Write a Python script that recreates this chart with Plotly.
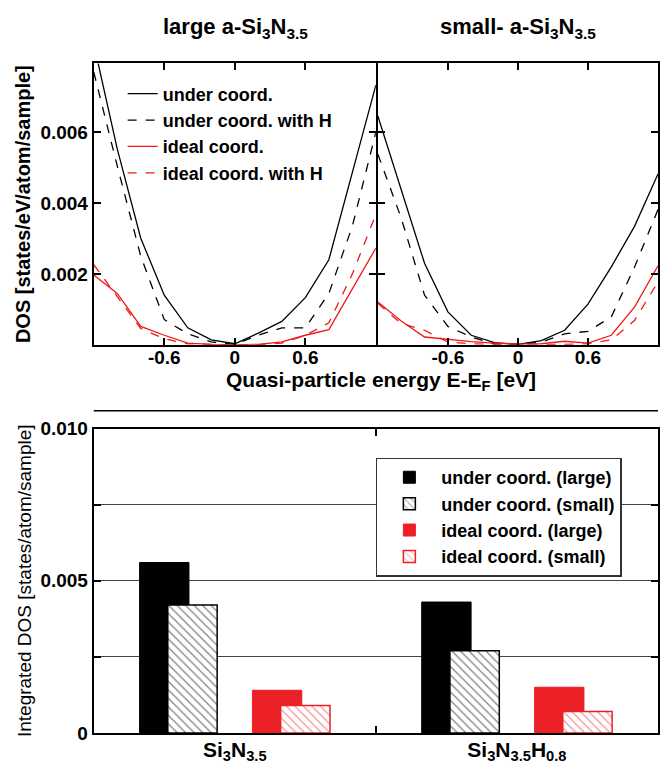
import plotly.graph_objects as go

# ---------------- data ----------------
energy = [-1.2, -1.0, -0.8, -0.6, -0.4, -0.2, 0.0, 0.2, 0.4, 0.6, 0.8, 1.0, 1.2]

large_under = [0.0085, 0.00553, 0.00301, 0.0014, 0.00048, 0.00014, 0.00003, 0.00033, 0.00066, 0.00133, 0.0024, 0.00486, 0.00733]
large_under_H = [0.0077, 0.00505, 0.0025, 0.00071, 0.00031, 0.00008, 0.00001, 0.00027, 0.00048, 0.00048, 0.00145, 0.00335, 0.0060]
large_ideal = [0.00197, 0.00145, 0.00052, 0.00027, 0.00005, 0.00001, 0.0, 0.00001, 0.00008, 0.00027, 0.00043, 0.0016, 0.00273]
large_ideal_H = [0.00226, 0.00137, 0.00046, 0.00017, 0.00003, 0.00001, 0.0, 0.0, 0.00005, 0.00027, 0.00062, 0.0020, 0.00368]

small_under = [0.00646, 0.00439, 0.0023, 0.00093, 0.00027, 0.00006, 0.00001, 0.00012, 0.00041, 0.00115, 0.0022, 0.00335, 0.00482]
small_under_H = [0.00538, 0.00358, 0.0014, 0.00052, 0.00022, 0.00003, 0.00001, 0.00008, 0.00031, 0.00038, 0.00079, 0.0022, 0.00382]
small_ideal = [0.00121, 0.00067, 0.00022, 0.00015, 0.00009, 0.00005, 0.00002, 0.00003, 0.0001, 0.00005, 0.00027, 0.00107, 0.00223]
small_ideal_H = [0.00117, 0.0006, 0.00041, 0.00008, 0.00003, 0.00001, 0.0, 0.0, 0.00001, 0.00003, 0.00014, 0.00069, 0.00178]

line_names = ["under coord.", "under coord. with H", "ideal coord.", "ideal coord. with H"]

categories = ["Si<sub>3</sub>N<sub>3.5</sub>", "Si<sub>3</sub>N<sub>3.5</sub>H<sub>0.8</sub>"]
under_large = [0.0056, 0.0043]
under_small = [0.0042, 0.0027]
ideal_large = [0.0014, 0.0015]
ideal_small = [0.0009, 0.0007]
bar_names = ["under coord. (large)", "under coord. (small)", "ideal coord. (large)", "ideal coord. (small)"]

dos_ticks = [0.002, 0.004, 0.006]
dos_ticktext = ["0.002", "0.004", "0.006"]
energy_ticks = [-0.6, 0, 0.6]
energy_ticktext = ["-0.6", "0", "0.6"]
int_ticks = [0, 0.005, 0.010]
int_ticktext = ["0", "0.005", "0.010"]

# ---------------- style ----------------
PAGE_W, PAGE_H, BODY = 668, 773, 8
W, H = PAGE_W - 2 * BODY, PAGE_H - 2 * BODY
FONT = "Liberation Sans, Arial, Helvetica, sans-serif"
RED_LINE = "#f01818"
RED_BAR = "#ec2027"
# vertical placement calibration of the photographed page
Y_OFF, Y_SC = 16.4, 0.9746

def px_x(p):
    return (p - BODY) / W

def px_y(p):
    return 1 - ((p - Y_OFF) / Y_SC) / H

fig = go.Figure()

# ---------------- top panels ----------------
styles = [("black", "solid"), ("black", "dash"), (RED_LINE, "solid"), (RED_LINE, "dash")]
left_series = [large_under, large_under_H, large_ideal, large_ideal_H]
right_series = [small_under, small_under_H, small_ideal, small_ideal_H]

for name, (col, dash), ys in zip(line_names, styles, left_series):
    fig.add_trace(go.Scatter(x=energy, y=ys, mode="lines", name=name,
                             line=dict(color=col, dash=dash, width=1.3),
                             xaxis="x", yaxis="y", legend="legend"))
for name, (col, dash), ys in zip(line_names, styles, right_series):
    fig.add_trace(go.Scatter(x=energy, y=ys, mode="lines", name=name, showlegend=False,
                             line=dict(color=col, dash=dash, width=1.3),
                             xaxis="x2", yaxis="y2"))

# ---------------- bottom bars ----------------
offsets = [0.25, 0.35, 0.65, 0.75]
bar_values = [under_large, under_small, ideal_large, ideal_small]
bar_styles = [
    dict(color="black", line=dict(color="black", width=1)),
    dict(color="white", line=dict(color="black", width=1.5),
         pattern=dict(shape="\\", fgcolor="black", bgcolor="white", size=6, solidity=0.2)),
    dict(color=RED_BAR, line=dict(color=RED_BAR, width=1)),
    dict(color="white", line=dict(color=RED_BAR, width=1.5),
         pattern=dict(shape="\\", fgcolor=RED_BAR, bgcolor="white", size=6, solidity=0.2)),
]
for name, off, vals, st in zip(bar_names, offsets, bar_values, bar_styles):
    xs = [i + off for i in range(len(categories))]
    fig.add_trace(go.Bar(x=xs, y=vals, name=name, width=0.175, marker=st,
                         xaxis="x3", yaxis="y3", legend="legend2"))

# ---------------- axes ----------------
xl0, xr1 = px_x(94), px_x(660)
xm_left, xm_right = px_x(377), px_x(379)
top_y = [px_y(344), px_y(62)]
bot_y = [px_y(733), px_y(428)]

common = dict(showline=True, linecolor="black", linewidth=2, mirror="ticks",
              ticks="inside", ticklen=7, tickwidth=1.5, tickcolor="black",
              showgrid=False, zeroline=False,
              tickfont=dict(family=FONT, size=19, color="black", weight="bold"))

fig.update_layout(
    xaxis=dict(domain=[xl0, xm_left], range=[-1.2, 1.2], tickvals=energy_ticks, ticktext=energy_ticktext,
               anchor="y", ticklabelstandoff=-6, **common),
    yaxis=dict(domain=top_y, range=[0, 0.00794], tickvals=dos_ticks, ticktext=dos_ticktext,
               anchor="x", **common,
               title=dict(text="DOS [states/eV/atom/sample]", standoff=4,
                          font=dict(family=FONT, size=20, color="black", weight="bold"))),
    xaxis2=dict(domain=[xm_right, xr1], range=[-1.2, 1.2], tickvals=energy_ticks, ticktext=energy_ticktext,
                anchor="y2", ticklabelstandoff=-6, **common),
    yaxis2=dict(domain=top_y, range=[0, 0.00794], tickvals=dos_ticks, showticklabels=False,
                anchor="x2", **common),
    xaxis3=dict(domain=[xl0, xr1], range=[0, 2], tickvals=[0.5, 1.5], ticktext=categories,
                anchor="y3", showline=True, linecolor="black", linewidth=2, mirror="ticks",
                ticks="", showgrid=False, zeroline=False, ticklabelstandoff=-3,
                minor=dict(tickvals=[1], ticks="inside", ticklen=7, tickwidth=1.5, tickcolor="black"),
                tickfont=dict(family=FONT, size=21, color="black", weight="bold")),
    yaxis3=dict(domain=bot_y, range=[0, 0.010], tickvals=int_ticks, ticktext=int_ticktext,
                anchor="x3", showline=True, linecolor="black", linewidth=2, mirror="ticks",
                ticks="inside", ticklen=7, tickwidth=1.5, tickcolor="black",
                showgrid=True, gridcolor="#444", gridwidth=1, zeroline=False,
                minor=dict(tickvals=[0.0025, 0.0075], ticks="inside", ticklen=7, tickwidth=1.5,
                           tickcolor="black", showgrid=True, gridcolor="#444", gridwidth=1),
                tickfont=dict(family=FONT, size=19, color="black", weight="bold"),
                title=dict(text="Integrated DOS [states/atom/sample]", standoff=4,
                           font=dict(family=FONT, size=19, color="black"))),
    barmode="overlay",
    legend=dict(x=px_x(123), y=px_y(74), xanchor="left", yanchor="top",
                bgcolor="rgba(0,0,0,0)", borderwidth=0, tracegroupgap=0,
                font=dict(family=FONT, size=18, color="black", weight="bold")),
    legend2=dict(x=px_x(377), y=px_y(457), xanchor="left", yanchor="top",
                 bgcolor="white", bordercolor="#333", borderwidth=1.5, itemwidth=54,
                 font=dict(family=FONT, size=18, color="black", weight="bold")),
    width=W, height=H,
    margin=dict(l=0, r=0, t=0, b=0),
    paper_bgcolor="white", plot_bgcolor="white",
    showlegend=True,
    shapes=[dict(type="line", xref="paper", yref="paper", x0=xl0, x1=xr1,
                 y0=px_y(410), y1=px_y(410), line=dict(color="black", width=1.5))],
    annotations=[
        dict(text="large a-Si<sub>3</sub>N<sub>3.5</sub>", x=px_x(236), y=px_y(26),
             xref="paper", yref="paper", xanchor="center", yanchor="middle",
             showarrow=False, font=dict(family=FONT, size=22, color="black", weight="bold")),
        dict(text="small- a-Si<sub>3</sub>N<sub>3.5</sub>", x=px_x(520), y=px_y(26),
             xref="paper", yref="paper", xanchor="center", yanchor="middle",
             showarrow=False, font=dict(family=FONT, size=22, color="black", weight="bold")),
        dict(text="Quasi-particle energy E-E<sub>F</sub> [eV]", x=px_x(382), y=px_y(380),
             xref="paper", yref="paper", xanchor="center", yanchor="middle",
             showarrow=False, font=dict(family=FONT, size=21, color="black", weight="bold")),
    ],
)

fig.write_html("out.html", config={"displayModeBar": False})
